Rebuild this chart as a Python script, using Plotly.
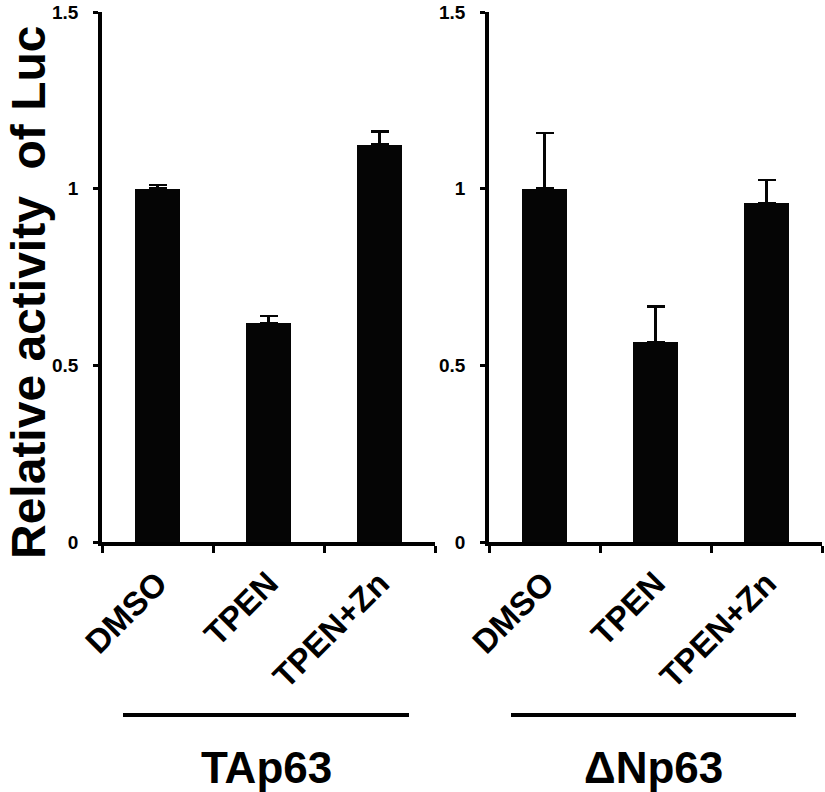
import plotly.graph_objects as go

CATEGORIES = ["DMSO", "TPEN", "TPEN+Zn"]
TAP63_VALUES = [1.00, 0.62, 1.125]
TAP63_ERRORS = [0.01, 0.02, 0.037]
DNP63_VALUES = [1.00, 0.566, 0.96]
DNP63_ERRORS = [0.158, 0.10, 0.065]
GROUPS = ["TAp63", "ΔNp63"]
Y_TICKS = [0, 0.5, 1, 1.5]
Y_TICK_TEXT = ["0", "0.5", "1", "1.5"]

FONT = "Liberation Sans, Arial, Helvetica, sans-serif"
W, H = 825, 792


def px_x(p):
    return p / W


def px_y(p):
    return 1 - p / H


fig = go.Figure()
for i, (vals, errs) in enumerate([(TAP63_VALUES, TAP63_ERRORS), (DNP63_VALUES, DNP63_ERRORS)]):
    fig.add_trace(
        go.Bar(
            x=list(range(len(CATEGORIES))),
            y=vals,
            width=0.405,
            marker=dict(color="#050505", line=dict(width=0)),
            error_y=dict(
                type="data",
                array=errs,
                arrayminus=[0] * len(errs),
                symmetric=False,
                color="#050505",
                thickness=2.5,
                width=9,
            ),
            xaxis="x" if i == 0 else "x2",
            yaxis="y" if i == 0 else "y2",
            showlegend=False,
            hoverinfo="skip",
        )
    )

xdoms = [[px_x(102), px_x(435)], [px_x(489), px_x(822)]]
ydom = [px_y(542), px_y(12)]

axis_common = dict(
    showline=True,
    linecolor="#000000",
    linewidth=3.5,
    showgrid=False,
    zeroline=False,
    automargin=False,
)

layout = dict(
    width=W,
    height=H,
    margin=dict(l=0, r=0, t=0, b=0, autoexpand=False),
    plot_bgcolor="#FFFFFF",
    paper_bgcolor="#FFFFFF",
    font=dict(family=FONT, color="#000000"),
    bargap=0,
)

for i in range(2):
    xk = "xaxis" if i == 0 else "xaxis2"
    yk = "yaxis" if i == 0 else "yaxis2"
    layout[xk] = dict(
        axis_common,
        domain=xdoms[i],
        range=[-0.5, 2.5],
        tickmode="array",
        tickvals=list(range(len(CATEGORIES))),
        ticktext=[f"<b>{c}</b>" for c in CATEGORIES],
        ticks="",
        tickangle=-45,
        tickfont=dict(size=33, family=FONT),
        ticklabelstandoff=5,
        anchor="y" if i == 0 else "y2",
        minor=dict(ticks="outside", tick0=-0.5, dtick=1, ticklen=7, tickwidth=3, tickcolor="#000000"),
    )
    layout[yk] = dict(
        axis_common,
        domain=ydom,
        range=[0, 1.5],
        tickmode="array",
        tickvals=Y_TICKS,
        ticktext=[f"<b>{t}</b>" for t in Y_TICK_TEXT],
        ticks="outside",
        ticklen=5,
        tickwidth=3,
        tickcolor="#000000",
        tickfont=dict(size=19, family=FONT),
        ticklabelstandoff=11,
        ticklabeloverflow="allow",
        anchor="x" if i == 0 else "x2",
    )

fig.update_layout(**layout)

fig.add_annotation(
    text="<b>Relative activity  of Luc</b>",
    xref="paper", yref="paper",
    x=px_x(28), y=px_y(292),
    xanchor="center", yanchor="middle",
    textangle=-90,
    showarrow=False,
    font=dict(size=48, family=FONT),
)

line_spans = [(123, 409), (511, 796)]
for (x0, x1), name in zip(line_spans, GROUPS):
    fig.add_shape(
        type="line", xref="paper", yref="paper",
        x0=px_x(x0), x1=px_x(x1), y0=px_y(715), y1=px_y(715),
        line=dict(color="#000000", width=4),
    )
    fig.add_annotation(
        text=f"<b>{name}</b>",
        xref="paper", yref="paper",
        x=px_x((x0 + x1) / 2), y=px_y(767),
        xanchor="center", yanchor="middle",
        showarrow=False,
        font=dict(size=44, family=FONT),
    )

# drop the default body margin so the figure sits at the page origin
fig.write_html(
    "out.html",
    config={"displayModeBar": False},
    post_script="document.body.style.margin='0';",
)
